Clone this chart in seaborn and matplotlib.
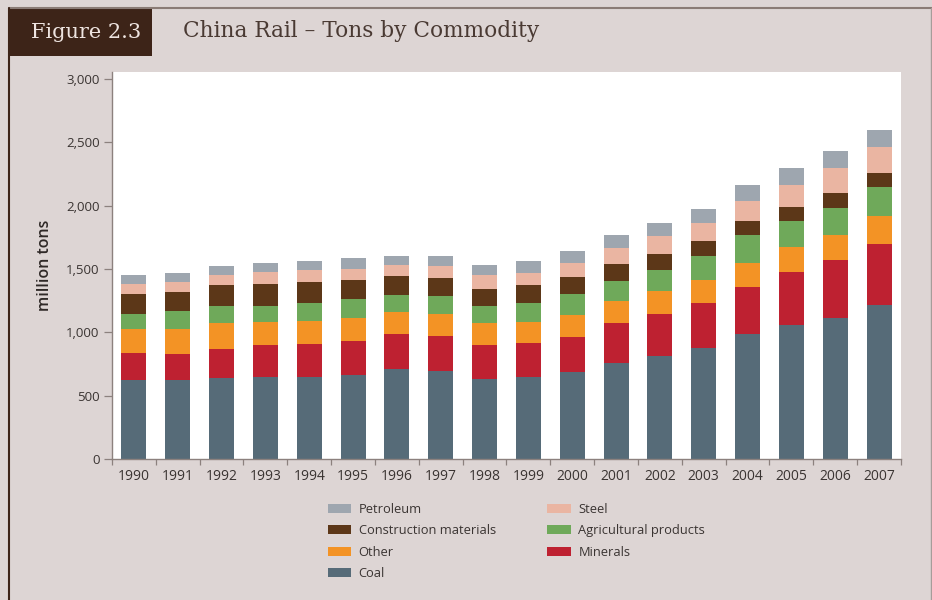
import numpy as np
import pandas as pd
import seaborn as sns
import matplotlib.pyplot as plt
from matplotlib.patches import Patch, Rectangle
from matplotlib.lines import Line2D
from matplotlib.ticker import FuncFormatter, FixedLocator

# Rail freight volume by commodity, million tons
years = [str(y) for y in range(1990, 2008)]
coal = [625, 620, 640, 650, 650, 665, 710, 695, 635, 645, 685, 760, 810, 875, 985, 1060, 1115, 1215]
minerals = [215, 210, 230, 250, 260, 265, 275, 275, 265, 270, 280, 310, 335, 360, 370, 415, 455, 480]
other = [185, 200, 200, 180, 180, 185, 175, 175, 170, 165, 170, 180, 180, 180, 195, 195, 200, 220]
agricultural = [120, 140, 135, 130, 145, 145, 135, 145, 135, 150, 165, 155, 170, 190, 215, 205, 210, 230]
construction = [160, 150, 165, 175, 160, 155, 150, 140, 140, 145, 140, 135, 120, 115, 115, 115, 120, 115]
steel = [80, 80, 80, 90, 95, 85, 85, 95, 105, 95, 110, 125, 145, 145, 160, 175, 200, 205]
petroleum = [70, 70, 70, 75, 75, 85, 75, 80, 80, 95, 95, 105, 100, 110, 120, 130, 130, 130]

series_names = ["Coal", "Minerals", "Other", "Agricultural products",
                "Construction materials", "Steel", "Petroleum"]
series_values = [coal, minerals, other, agricultural, construction, steel, petroleum]
series_colors = ["#566b78", "#be2131", "#f39325", "#6fa95a", "#5c3718", "#eab5a2", "#9ea6af"]

bg = "#ddd5d4"
text_col = "#3a3432"

sns.set_theme(style="white")
plt.rcParams["font.family"] = ["Open Sans", "DejaVu Sans"]

fig = plt.figure(figsize=(9.32, 6.0), dpi=100, facecolor=bg)
ax = fig.add_axes([112 / 932, 141 / 600, 789 / 932, 387 / 600])
ax.set_facecolor("white")

# Stack by drawing running totals, tallest first
df = pd.DataFrame(dict(zip(series_names, series_values)), index=years)
cum = df.cumsum(axis=1)
for name, color in reversed(list(zip(series_names, series_colors))):
    sns.barplot(x=cum.index, y=cum[name].values, order=years, color=color,
                width=0.57, ax=ax, saturation=1, edgecolor="none", linewidth=0)

ax.set_xlim(-0.5, len(years) - 0.5)
ax.set_ylim(0, 3055)
ax.yaxis.set_major_locator(FixedLocator(np.arange(0, 3001, 500)))
ax.yaxis.set_major_formatter(FuncFormatter(lambda v, p: f"{int(v):,}"))
ax.set_xlabel("")
ax.set_ylabel("million tons", fontsize=11.5, fontweight="semibold", color="#2e2826", labelpad=9)

for s in ["top", "right"]:
    ax.spines[s].set_visible(False)
for s in ["left", "bottom"]:
    ax.spines[s].set_color("#8c817e")
    ax.spines[s].set_linewidth(1.0)

ax.tick_params(axis="y", which="major", left=True, length=6, width=0.9, color="#8c817e",
               labelsize=9.5, labelcolor=text_col, pad=3)
ax.tick_params(axis="x", which="major", bottom=False, labelsize=10, labelcolor=text_col, pad=1)
ax.xaxis.set_minor_locator(FixedLocator(np.arange(-0.5, len(years), 1.0)))
ax.tick_params(axis="x", which="minor", bottom=True, length=4, width=0.9, color="#8c817e")

# Legend in two columns
handles = [Patch(facecolor=c, edgecolor="none") for c in series_colors]
by_name = dict(zip(series_names, handles))
leg_order = ["Petroleum", "Construction materials", "Other", "Coal",
             "Steel", "Agricultural products", "Minerals"]
leg = fig.legend([by_name[n] for n in leg_order], leg_order, ncol=2,
                 loc="upper left", bbox_to_anchor=(316 / 932, 1 - 491 / 600),
                 frameon=False, fontsize=9.3, handlelength=1.8, handleheight=0.7,
                 handletextpad=0.6, columnspacing=4.0, labelspacing=0.66)
for t in leg.get_texts():
    t.set_color(text_col)

# Header band and frame
fig.patches.append(Rectangle((10 / 932, 1 - 56 / 600), 142 / 932, 48 / 600,
                             transform=fig.transFigure, facecolor="#3d2418",
                             edgecolor="none", zorder=1))
fig.text(86 / 932, 1 - 32 / 600, "Figure 2.3", fontsize=15, color="#eee4e0",
         family=["DejaVu Serif"], ha="center", va="center")
fig.text(183 / 932, 1 - 31 / 600, "China Rail – Tons by Commodity", fontsize=15.6,
         color="#4a3a33", family=["DejaVu Serif"], ha="left", va="center")
fig.lines.append(Line2D([9 / 932, 1], [1 - 7.5 / 600, 1 - 7.5 / 600],
                        transform=fig.transFigure, color="#8a7b75", linewidth=1.5))
fig.lines.append(Line2D([9 / 932, 9 / 932], [0, 1 - 7.5 / 600],
                        transform=fig.transFigure, color="#3d2418", linewidth=1.5))
fig.lines.append(Line2D([930.5 / 932, 930.5 / 932], [0, 1 - 7.5 / 600],
                        transform=fig.transFigure, color="#a79c99", linewidth=1.0))

fig.savefig("out.png", dpi=100, facecolor=bg)
